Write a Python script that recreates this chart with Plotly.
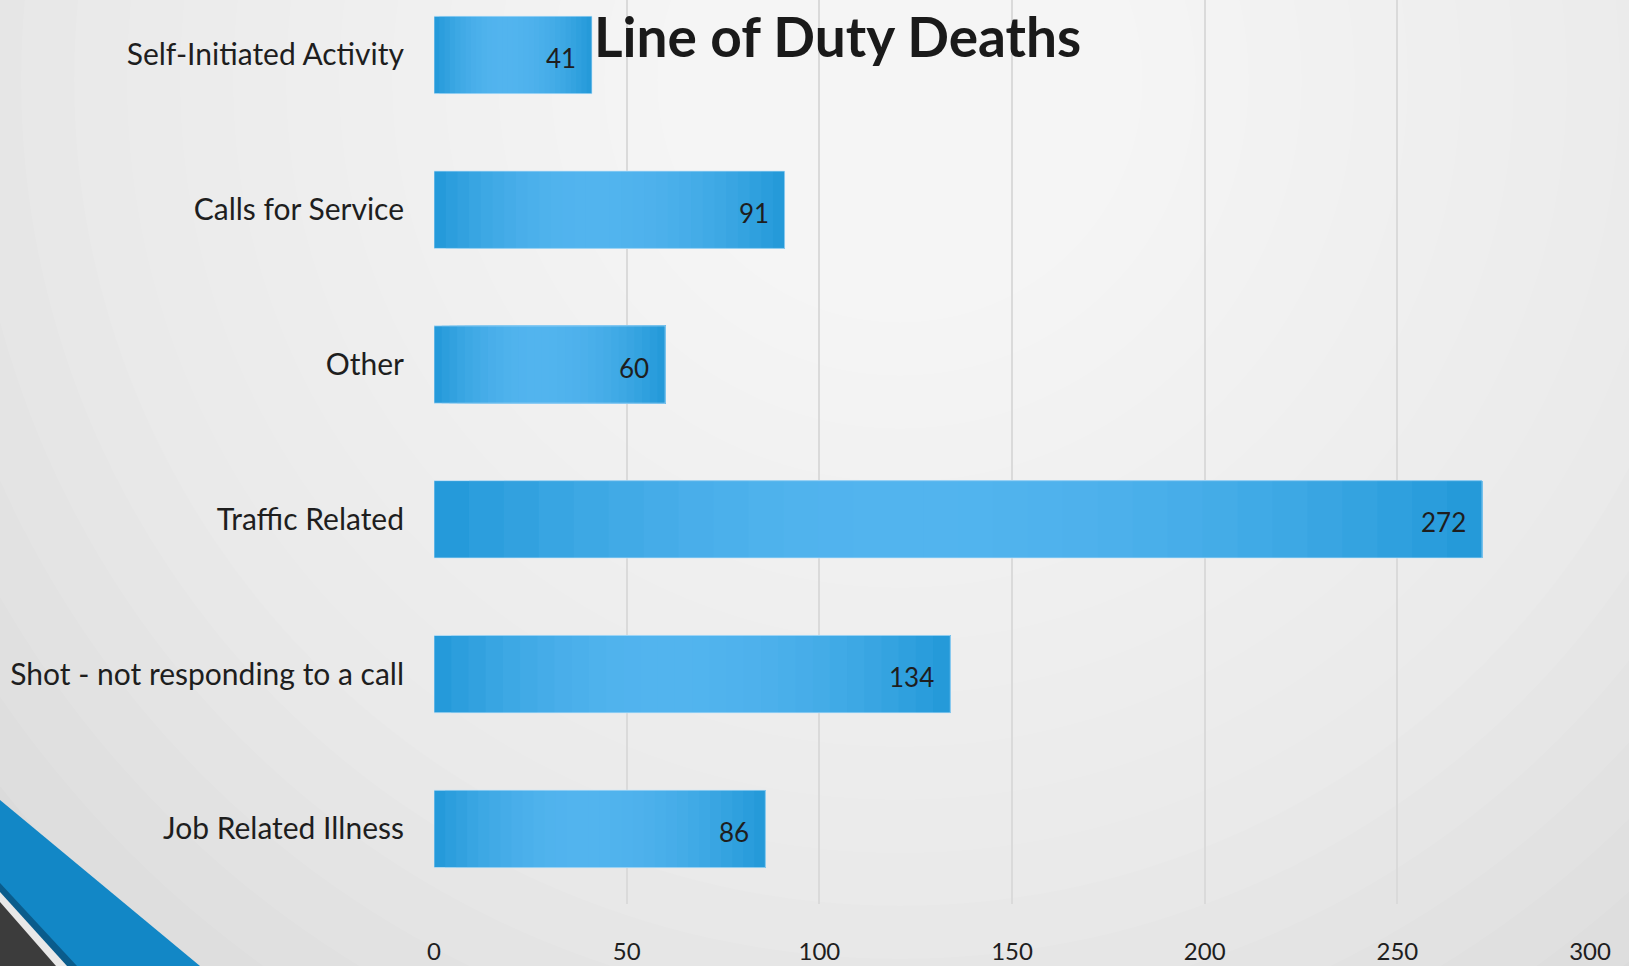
import plotly.graph_objects as go

# ---- data (top to bottom as shown) ----
categories = ["Self-Initiated Activity", "Calls for Service", "Other",
              "Traffic Related", "Shot - not responding to a call", "Job Related Illness"]
values = [41, 91, 60, 272, 134, 86]
x_ticks = [0, 50, 100, 150, 200, 250, 300]
title_text = "Line of Duty Deaths"

# ---- geometry ----
W, H = 1629, 966
L, R, T, B = 434, 1590, 0, 904
PW, PH = R - L, B - T


def px(xp):
    return (xp - L) / PW


def py(yp):
    return (B - yp) / PH


cats_bottom_up = categories[::-1]
vals_bottom_up = values[::-1]

dark = (34, 152, 216)
light = (82, 180, 238)


def mix(c1, c2, t):
    return "rgb(%d,%d,%d)" % tuple(round(a + (b - a) * t) for a, b in zip(c1, c2))


def grad_color(f):
    peak = 0.45
    d = (f - peak) / (peak if f < peak else 1 - peak)
    t = max(0.0, 1 - d * d)
    return mix(dark, light, t)


fig = go.Figure()
N = 30
for k in range(N):
    f0 = k / N
    fig.add_trace(go.Bar(
        y=cats_bottom_up,
        x=[v * (1 - f0) for v in vals_bottom_up],
        base=[v * f0 for v in vals_bottom_up],
        orientation="h",
        marker=dict(color=grad_color(f0 + 0.5 / N), line=dict(width=0)),
        hoverinfo="skip",
        showlegend=False,
    ))

# thin light outline around each full bar
fig.add_trace(go.Bar(
    y=cats_bottom_up, x=vals_bottom_up, orientation="h",
    marker=dict(color="rgba(0,0,0,0)", line=dict(width=1, color="rgba(200,230,250,0.7)")),
    hoverinfo="skip", showlegend=False,
))

annotations = []
for c, v in zip(cats_bottom_up, vals_bottom_up):
    annotations.append(dict(x=v, y=c, xref="x", yref="y", text=str(v),
                            showarrow=False, xanchor="right", yanchor="middle",
                            xshift=-14, yshift=-3,
                            font=dict(family="Lato", size=26, color="#1e1e1e")))

annotations.append(dict(x=px(837), y=py(36), xref="paper", yref="paper",
                        text="<b>" + title_text + "</b>", showarrow=False,
                        xanchor="center", yanchor="middle",
                        font=dict(family="Lato", size=55, color="#1a1a1a")))

shapes = []
# radial background gradient
cx, cy = 900, 80
nc = 22
for i in range(nc):
    r = 1250 - i * 53
    shapes.append(dict(type="circle", xref="paper", yref="paper", layer="below",
                       x0=px(cx - r), x1=px(cx + r), y0=py(cy + r), y1=py(cy - r),
                       fillcolor="rgba(255,255,255,0.085)", line=dict(width=0)))


def poly(points, color):
    path = "M " + " L ".join("%.5f,%.5f" % (px(a), py(b)) for a, b in points) + " Z"
    return dict(type="path", xref="paper", yref="paper", layer="below",
                path=path, fillcolor=color, line=dict(width=0))


shapes.append(poly([(0, 800), (200, 966), (0, 966)], "#1287c6"))
shapes.append(poly([(0, 883), (77, 966), (0, 966)], "#0a5c8c"))
shapes.append(poly([(0, 892), (67, 966), (0, 966)], "#e8e8e8"))
shapes.append(poly([(0, 902), (56, 966), (0, 966)], "#3c3c3c"))

fig.update_layout(
    width=W, height=H,
    margin=dict(l=L, r=W - R, t=T, b=H - B),
    paper_bgcolor="#d5d5d5",
    plot_bgcolor="rgba(0,0,0,0)",
    barmode="overlay",
    bargap=0.5,
    shapes=shapes,
    annotations=annotations,
    font=dict(family="Lato", color="#222222"),
    xaxis=dict(range=[0, 300], tickvals=x_ticks, showgrid=True,
               gridcolor="#dadada", gridwidth=2, zeroline=False,
               showline=False, ticks="outside", ticklen=26,
               tickcolor="rgba(0,0,0,0)",
               tickfont=dict(family="Lato", size=24, color="#1e1e1e")),
    yaxis=dict(categoryorder="array", categoryarray=cats_bottom_up,
               range=[-0.485, 5.355], showgrid=False, zeroline=False,
               showline=False, ticks="outside", ticklen=23,
               tickcolor="rgba(0,0,0,0)",
               tickfont=dict(family="Lato", size=30, color="#1e1e1e")),
)

fig.write_html("out.html", config={"displayModeBar": False},
               post_script="document.body.style.margin='0';document.body.style.overflow='hidden';")
